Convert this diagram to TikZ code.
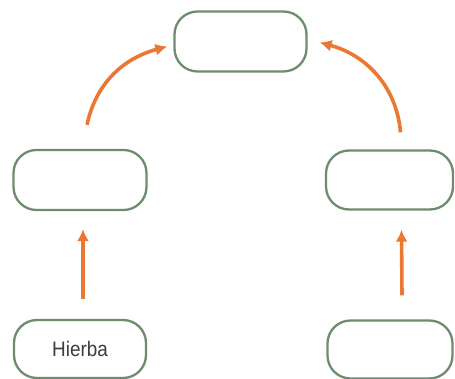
\documentclass[tikz,border=0pt]{standalone}
\usepackage{fontspec}
\setmainfont{Liberation Sans}
\usetikzlibrary{arrows.meta}

\definecolor{verdecaja}{RGB}{110,140,110}
\definecolor{naranja}{RGB}{234,120,50}
\definecolor{grisletra}{RGB}{60,60,60}

\begin{document}
\begin{tikzpicture}[x=1pt,y=1pt,
    caja/.style={draw=verdecaja, line width=2.3pt, rounded corners=23pt, fill=white, text=grisletra,
                 minimum width=#1, minimum height=58pt, inner sep=0pt, font=\fontsize{21}{24}\selectfont},
    caja/.default=132pt,
    flecha/.style={->, >={Latex[length=12pt,width=12pt]}, naranja, line width=3.6pt}]
            \useasboundingbox (0,0) rectangle (455,379);

            \node[caja=132pt, minimum height=60pt] (cima) at (240.5,337.5) {};
            \node[caja=133pt, minimum height=60pt] (izq) at (80,199) {};
            \node[caja=127pt, minimum height=59pt] (der) at (389.5,199) {};
            \node[caja=132pt] (hierba) at (80,30) {\addfontfeature{FakeStretch=0.9}Hierba};
            \node[caja=125pt] (abajo) at (390,29.5) {};

            \draw[flecha] ([xshift=3pt,yshift=20pt]hierba.north) -- ([xshift=3pt,yshift=-18pt]izq.south);
            \draw[flecha] ([xshift=12pt,yshift=24pt]abajo.north) -- ([xshift=12pt,yshift=-19pt]der.south);

            \draw[flecha] ([xshift=7pt,yshift=24pt]izq.north) to[out=78,in=195] ([xshift=-6pt,yshift=-5pt]cima.west);
            \draw[flecha] ([xshift=11pt,yshift=17pt]der.north) to[out=95,in=-15] ([xshift=12pt,yshift=-1pt]cima.east);
        \end{tikzpicture}
\end{document}
